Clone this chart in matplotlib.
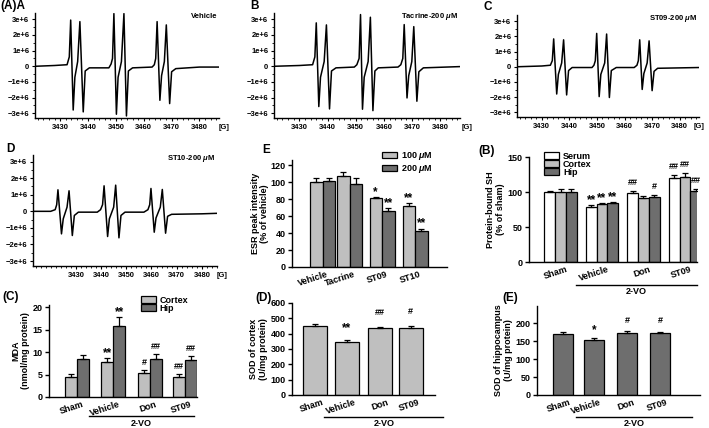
import numpy as np
import matplotlib
matplotlib.use("Agg")
import matplotlib.pyplot as plt
from matplotlib.ticker import MultipleLocator, FuncFormatter
from matplotlib.patches import Patch

plt.rcParams['font.family'] = ['Liberation Sans', 'DejaVu Sans']
plt.rcParams['font.weight'] = 'bold'
plt.rcParams['axes.labelweight'] = 'bold'
plt.rcParams['mathtext.fontset'] = 'custom'
plt.rcParams['mathtext.it'] = 'Liberation Sans:italic:bold'
plt.rcParams['mathtext.rm'] = 'Liberation Sans:bold'
plt.rcParams['axes.linewidth'] = 1.0

# ---- ESR spectra (field in G, intensity in 1e6 units)
a_field = [3421, 3428, 3432.5, 3433.3, 3433.8, 3434.7, 3435.3, 3436.3, 3437.1, 3438.3, 3439.0, 3440.5,
           3447.5, 3448.3, 3448.8, 3449.3, 3450.2, 3450.8, 3452.0, 3452.9, 3453.8, 3454.5, 3456,
           3463, 3463.8, 3464.3, 3464.8, 3465.8, 3466.4, 3467.4, 3468.1, 3469.3, 3470.0, 3471.5, 3480, 3487]
a_int = [0, 0.05, 0.1, 0.6, 2.95, -2.79, -0.7, 0.3, 2.85, -2.91, -0.3, -0.1,
         -0.1, 0.15, 0.5, 3.36, -3.06, -0.7, 0.3, 3.36, -3.17, -0.3, -0.1,
         -0.05, 0.1, 0.5, 2.85, -2.17, -0.6, 0.3, 2.64, -2.38, -0.35, -0.15, -0.05, -0.05]

b_field = [3421, 3430, 3434.7, 3435.5, 3436.0, 3436.9, 3437.5, 3438.8, 3439.6, 3440.7, 3441.4, 3443,
           3449.5, 3450.4, 3451.2, 3451.7, 3452.4, 3453.0, 3454.4, 3455.2, 3456.1, 3456.8, 3458,
           3465, 3466.0, 3466.7, 3467.2, 3468.2, 3468.8, 3469.9, 3470.6, 3471.7, 3472.4, 3474, 3487]
b_int = [0, 0.05, 0.1, 0.6, 2.77, -2.57, -0.7, 0.3, 2.64, -2.72, -0.3, -0.1,
         -0.05, 0.1, 0.5, 3.3, -2.74, -0.7, 0.3, 3.13, -2.83, -0.3, -0.1,
         -0.05, 0.1, 0.5, 2.66, -2.02, -0.6, 0.3, 2.53, -2.23, -0.35, -0.1, -0.02]

c_field = [3421, 3430, 3433.1, 3433.8, 3434.3, 3435.4, 3436.0, 3437.2, 3437.9, 3439.0, 3439.7, 3441,
           3448.2, 3448.9, 3449.4, 3449.9, 3450.8, 3451.4, 3452.8, 3453.5, 3454.5, 3455.2, 3457,
           3463.5, 3464.5, 3465.0, 3465.5, 3466.4, 3467.0, 3468.2, 3468.9, 3470.0, 3470.7, 3472, 3487]
c_int = [0, 0.05, 0.1, 0.4, 1.83, -1.79, -0.5, 0.25, 1.77, -1.85, -0.25, -0.05,
         -0.05, 0.1, 0.4, 2.19, -1.96, -0.5, 0.25, 2.15, -2.02, -0.25, -0.05,
         -0.05, 0.1, 0.4, 1.77, -1.49, -0.45, 0.25, 1.70, -1.57, -0.3, -0.1, -0.05]

d_field = [3413, 3420, 3421.8, 3422.4, 3422.9, 3424.3, 3425.0, 3426.5, 3427.3, 3428.6, 3429.4, 3431,
           3438.5, 3439.8, 3440.6, 3441.2, 3442.6, 3443.3, 3445.0, 3445.8, 3447.1, 3447.9, 3449.5,
           3457, 3458.6, 3459.3, 3459.8, 3461.1, 3461.8, 3463.5, 3464.3, 3465.6, 3466.4, 3468, 3480, 3486]
d_int = [0, 0, 0.1, 0.4, 1.30, -1.36, -0.45, 0.25, 1.24, -1.46, -0.25, -0.05,
         -0.05, 0.1, 0.4, 1.54, -1.52, -0.45, 0.25, 1.58, -1.60, -0.25, -0.05,
         -0.05, 0.1, 0.4, 1.38, -1.26, -0.4, 0.25, 1.32, -1.32, -0.3, -0.18, -0.15, -0.12]

# ---- E: ESR peak intensity
esr_groups = ['Vehicle', 'Tacrine', 'ST09', 'ST10']
esr_100 = [100.4, 107.5, 80.7, 72.0]
esr_100_err = [4.6, 4.5, 1.3, 3.0]
esr_200 = [100.8, 97.6, 65.7, 42.5]
esr_200_err = [4.0, 7.4, 4.0, 2.8]
esr_100_sig = ['', '', '*', '**']
esr_200_sig = ['', '', '**', '**']

# ---- (B) Protein-bound SH
vo_groups = ['Sham', 'Vehicle', 'Don', 'ST09']
sh_serum = [99.7, 79.0, 98.2, 120.7]
sh_serum_err = [2.4, 2.0, 3.0, 4.0]
sh_cortex = [99.7, 82.4, 91.0, 121.2]
sh_cortex_err = [4.0, 2.0, 4.0, 5.8]
sh_hip = [99.7, 83.9, 93.4, 102.0]
sh_hip_err = [5.0, 1.5, 2.0, 2.0]
sh_serum_sig = ['', '**', '##', '##']
sh_cortex_sig = ['', '**', '', '##']
sh_hip_sig = ['', '**', '#', '##']

# ---- (C) MDA
mda_cortex = [4.48, 7.84, 5.45, 4.48]
mda_cortex_err = [0.75, 0.95, 0.65, 0.67]
mda_hip = [8.36, 15.9, 8.5, 8.2]
mda_hip_err = [1.05, 2.0, 1.05, 0.9]
mda_cortex_sig = ['', '**', '#', '##']
mda_hip_sig = ['', '**', '##', '##']

# ---- (D) SOD cortex, (E) SOD hippocampus
sod_ctx = [452, 345, 435, 440]
sod_ctx_err = [9, 16, 10, 13]
sod_ctx_sig = ['', '**', '##', '#']
sod_hip = [169.6, 154.0, 173.0, 171.4]
sod_hip_err = [5, 4, 4.5, 5]
sod_hip_sig = ['', '*', '#', '#']

WHITE, LIGHT, DARK = '#ffffff', '#bfbfbf', '#6e6e6e'
W, H = 709, 428
fig = plt.figure(figsize=(W / 100, H / 100), dpi=100)


def add_ax(l, t, r, b):
    return fig.add_axes([l / W, 1 - b / H, (r - l) / W, (b - t) / H])


def efmt(v, pos):
    k = int(round(v / 1e6))
    if k == 0:
        return '0'
    return ('%de+6' % k).replace('-', '\u2212')


def esr_panel(box, field, inten, xlim, title, gx=1.03):
    ax = add_ax(*box)
    ax.plot(field, np.array(inten) * 1e6, color='black', lw=1.1)
    ax.set_xlim(xlim)
    ax.set_ylim(-3.3e6, 3.4e6)
    ax.set_xticks(range(3430, 3481, 10))
    ax.xaxis.set_minor_locator(MultipleLocator(2))
    ax.yaxis.set_major_locator(MultipleLocator(1e6))
    ax.yaxis.set_minor_locator(MultipleLocator(0.5e6))
    ax.yaxis.set_major_formatter(FuncFormatter(efmt))
    for s in ['top', 'right']:
        ax.spines[s].set_visible(False)
    ax.tick_params(labelsize=5.5, length=2.5, width=0.8, pad=1.5)
    ax.tick_params(which='minor', length=1.5, width=0.6)
    ax.text(gx, -0.09, '[G]', transform=ax.transAxes, fontsize=5.5, ha='center', va='center')
    ax.text(0.99, 0.97, title, transform=ax.transAxes, fontsize=5.5, ha='right', va='center')
    return ax


esr_panel((35, 13, 219, 118), a_field, a_int, (3421, 3487), 'Vehicle')
esr_panel((274, 13, 460, 118), b_field, b_int, (3421, 3487), 'Tacrine-200 $\\mu$M', 1.04)
esr_panel((517, 15, 699, 117), c_field, c_int, (3421, 3487), 'ST09-200 $\\mu$M', 1.0)
esr_panel((33, 155, 217, 266), d_field, d_int, (3413, 3486), 'ST10-200 $\\mu$M')

FS = 6.5


def bar_axes(box, ylim, ystep, ylabel, xlim, lpad=2):
    ax = add_ax(*box)
    ax.set_ylim(*ylim)
    ax.set_xlim(*xlim)
    ax.yaxis.set_major_locator(MultipleLocator(ystep))
    for s in ['top', 'right']:
        ax.spines[s].set_visible(False)
    ax.tick_params(axis='y', labelsize=FS, length=3, width=1, pad=1.5)
    ax.tick_params(axis='x', labelsize=FS, length=0, pad=2)
    ax.set_ylabel(ylabel, fontsize=6.5, labelpad=lpad, linespacing=1.1)
    return ax


def draw_bars(ax, pos, series, width, off_px):
    n = len(series)
    for i, (vals, errs, marks, col) in enumerate(series):
        x = pos + (i - (n - 1) / 2) * width
        ax.bar(x, vals, width, color=col, edgecolor='black', lw=0.9, zorder=2)
        ax.errorbar(x, vals, yerr=[np.zeros(len(x)), errs], fmt='none', ecolor='black',
                    elinewidth=0.9, capsize=2, capthick=0.9, zorder=3)
        for xx, v, e, m in zip(x, vals, errs, marks):
            if m:
                fs = 8.5 if '*' in m else 6.5
                base = off_px * 0.72 - (0.58 if '*' in m else 0.36) * fs
                ax.annotate(m, (xx, v + e), xytext=(0, base), textcoords='offset points',
                            ha='center', va='baseline', fontsize=fs)


def cat_labels(ax, pos, labels):
    ax.set_xticks(pos)
    ax.set_xticklabels(labels, rotation=18, ha='right', rotation_mode='anchor')


def vo_line(ax, x0, x1, yl, yt):
    tr = ax.transAxes
    ax.plot([x0, x1], [yl, yl], color='black', lw=1, transform=tr, clip_on=False)
    ax.text((x0 + x1) / 2, yt, '2-VO', transform=tr, ha='center', va='center', fontsize=6.5)


def box_legend(ax, items, anchor, spacing=0.1):
    ax.legend(handles=[Patch(facecolor=c, edgecolor='black', lw=0.9, label=l) for c, l in items],
              loc='upper left', bbox_to_anchor=anchor, frameon=False, fontsize=6.5,
              handlelength=1.7, handleheight=0.7, labelspacing=spacing, handletextpad=0.4,
              borderpad=0, borderaxespad=0)


# E: ESR peak intensity
ax = bar_axes((292, 160, 447, 267), (0, 126), 20, 'ESR peak intensity\n(% of vehicle)', (0, 12.4), 1)
pos = np.array([2.45, 4.6, 7.2, 9.85])
draw_bars(ax, pos, [(esr_100, esr_100_err, esr_100_sig, LIGHT),
                    (esr_200, esr_200_err, esr_200_sig, DARK)], 1.0, 9)
cat_labels(ax, pos + 0.3, esr_groups)
box_legend(ax, [(LIGHT, '100 $\\mu$M'), (DARK, '200 $\\mu$M')], (0.58, 1.09), 0.05)

# (B) Protein-bound SH
ax = bar_axes((529, 157, 697, 262), (0, 150), 50, 'Protein-bound SH\n(% of sham)', (0, 15.5))
pos = np.array([2.92, 6.74, 10.55, 14.4])
draw_bars(ax, pos, [(sh_serum, sh_serum_err, sh_serum_sig, WHITE),
                    (sh_cortex, sh_cortex_err, sh_cortex_sig, LIGHT),
                    (sh_hip, sh_hip_err, sh_hip_sig, DARK)], 1.0, 9)
cat_labels(ax, pos + 0.5, vo_groups)
box_legend(ax, [(WHITE, 'Serum'), (LIGHT, 'Cortex'), (DARK, 'Hip')], (0.09, 1.05), -0.12)
vo_line(ax, 0.28, 1.0, -0.222, -0.285)

# (C) MDA
ax = bar_axes((49, 305, 197, 397), (0, 20.5), 5, 'MDA\n(nmol/mg protein)', (0, 12.48))
pos = np.array([2.38, 5.42, 8.52, 11.46])
draw_bars(ax, pos, [(mda_cortex, mda_cortex_err, mda_cortex_sig, LIGHT),
                    (mda_hip, mda_hip_err, mda_hip_sig, DARK)], 1.0, 8)
cat_labels(ax, pos + 0.4, vo_groups)
box_legend(ax, [(LIGHT, 'Cortex'), (DARK, 'Hip')], (0.62, 1.1), -0.12)
vo_line(ax, 0.273, 0.977, -0.21, -0.283)

# (D) SOD cortex
ax = bar_axes((292, 303, 435, 395), (0, 600), 100, 'SOD of cortex\n(U/mg protein)', (0, 5.96))
pos = np.array([0.97, 2.28, 3.65, 4.95])
draw_bars(ax, pos, [(sod_ctx, sod_ctx_err, sod_ctx_sig, LIGHT)], 1.0, 15)
cat_labels(ax, pos + 0.3, vo_groups)
vo_line(ax, 0.226, 1.058, -0.235, -0.305)

# (E) SOD hippocampus
ax = bar_axes((537, 306, 700, 395), (0, 248), 50, 'SOD of hippocampus\n(U/mg protein)', (0, 8.17))
pos = np.array([1.29, 2.85, 4.52, 6.17])
draw_bars(ax, pos, [(sod_hip, sod_hip_err, sod_hip_sig, DARK)], 1.0, 12)
cat_labels(ax, pos + 0.3, vo_groups)
vo_line(ax, 0.24, 0.95, -0.244, -0.315)

# panel letters
for x, y, s in [(0, 6, '(A)A'), (250, 6, 'B'), (483, 7, 'C'), (6, 149, 'D'), (262, 150, 'E'),
                (478, 151, '(B)'), (2, 297, '(C)'), (255, 298, '(D)'), (502, 298, '(E)')]:
    fig.text(x / W, 1 - y / H, s, fontsize=8.5, fontweight='bold', ha='left', va='center')

fig.savefig('out.png', dpi=100)
